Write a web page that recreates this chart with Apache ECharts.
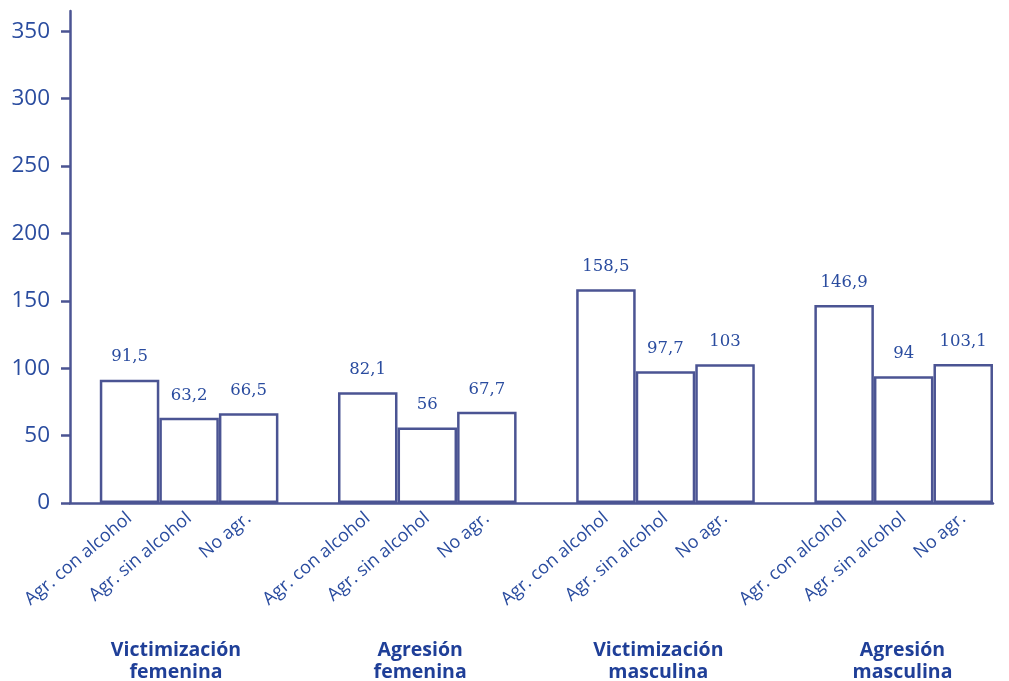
<!DOCTYPE html>
<html><head><meta charset="utf-8">
<script src="https://cdn.jsdelivr.net/npm/echarts@6/dist/echarts.min.js"></script>
<style>html,body{margin:0;padding:0;background:#fff}#c{width:1009px;height:681px}</style>
</head><body><div id="c"></div>
<script>
const groups = ['Victimización\nfemenina', 'Agresión\nfemenina', 'Victimización\nmasculina', 'Agresión\nmasculina'];
const subcategories = ['Agr. con alcohol', 'Agr. sin alcohol', 'No agr.'];
const victFem = [91.5, 63.2, 66.5];
const agrFem = [82.1, 56, 67.7];
const victMasc = [158.5, 97.7, 103];
const agrMasc = [146.9, 94, 103.1];
const yTicks = [0, 50, 100, 150, 200, 250, 300, 350];

const seriesByGroup = [victFem, agrFem, victMasc, agrMasc];
const groupLabelShift = [-0.22, -0.12, -0.12, -0.02];
const data = [];
const labelPos = [];
const labelText = {};
const groupPos = [];
const groupText = {};
seriesByGroup.forEach((vals, g) => {
  vals.forEach((v, j) => {
    const x = g * 4 + j + 1;
    data.push([x, v]);
    labelPos.push(x);
    labelText[x] = subcategories[j];
  });
  const gp = Math.round((g * 4 + 2 + groupLabelShift[g]) * 100) / 100;
  groupPos.push(gp);
  groupText[gp] = groups[g];
});

const axisColor = '#4b5493';
const textColor = '#2a4c9f';
const chart = echarts.init(document.getElementById('c'), null, {renderer: 'canvas'});
chart.setOption({
  backgroundColor: '#fff',
  animation: false,
  grid: {left: 70, right: 16, top: 11, bottom: 178, outerBoundsMode: 'none', containLabel: false},
  xAxis: [{
    type: 'value', min: 0, max: 15.5,
    splitLine: {show: false},
    axisLine: {show: true, lineStyle: {color: axisColor, width: 2.5}},
    axisTick: {show: false},
    axisLabel: {
      customValues: labelPos,
      rotate: 40, margin: 13,
      color: textColor, fontFamily: 'Open Sans', fontSize: 18,
      formatter: v => labelText[v] || ''
    }
  }, {
    type: 'value', min: 0, max: 15.5, position: 'bottom', offset: 128,
    splitLine: {show: false},
    axisLine: {show: false}, axisTick: {show: false},
    axisLabel: {
      customValues: groupPos,
      color: '#1f3f98', fontFamily: 'Open Sans', fontWeight: 'bold', fontSize: 19.5, lineHeight: 22,
      align: 'center', verticalAlign: 'top',
      formatter: v => groupText[Math.round(v * 100) / 100] || ''
    }
  }],
  yAxis: {
    type: 'value', min: 0, max: 365,
    splitLine: {show: false},
    axisLine: {show: true, lineStyle: {color: axisColor, width: 2.5}},
    axisTick: {show: true, inside: false, length: 9, customValues: yTicks, lineStyle: {color: axisColor, width: 2.5}},
    axisLabel: {customValues: yTicks, color: textColor, fontFamily: 'Open Sans', fontSize: 22.5, margin: 20}
  },
  series: [{
    type: 'bar',
    xAxisIndex: 0,
    data: data,
    barWidth: 59.5,
    itemStyle: {color: '#fff', borderColor: axisColor, borderWidth: 2.5},
    label: {
      show: true, position: 'top', distance: 14,
      color: textColor, fontFamily: 'DejaVu Serif', fontSize: 16.5,
      formatter: p => String(p.value[1]).replace('.', ',')
    }
  }]
});
</script></body></html>
